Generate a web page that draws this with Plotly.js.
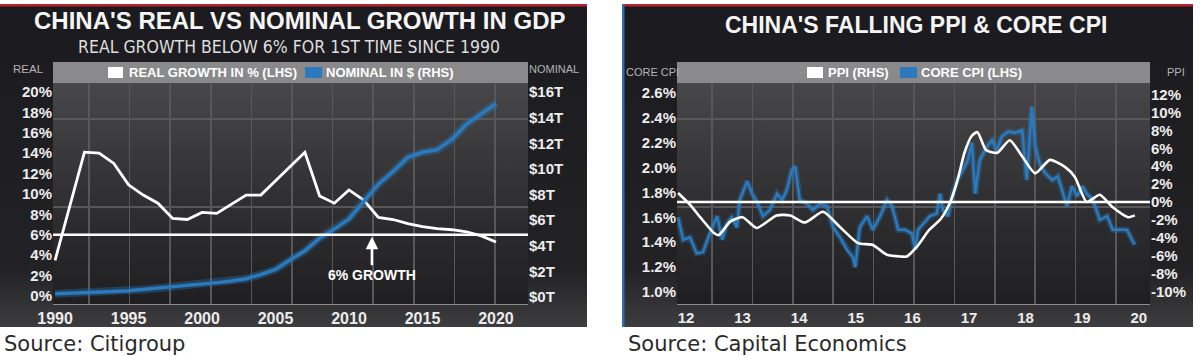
<!DOCTYPE html>
<html>
<head>
<meta charset="utf-8">
<script src="https://cdn.plot.ly/plotly-3.0.1.min.js"></script>
<style>
  html, body { margin: 0; padding: 0; background: #ffffff; }
  #chart { width: 1200px; height: 356px; }
</style>
</head>
<body>
<div id="chart"></div>
<script>
// ---------------- DATA ----------------
// Left chart: China's real vs nominal growth in GDP
const gdpYears = [1990,1991,1992,1993,1994,1995,1996,1997,1998,1999,2000,2001,2002,2003,2004,2005,2006,2007,2008,2009,2010,2011,2012,2013,2014,2015,2016,2017,2018,2019,2020];
const realGrowthPct = [3.5,8.8,14.1,14.0,13.0,10.9,9.9,9.1,7.6,7.5,8.2,8.1,9.0,9.9,9.9,11.3,12.8,14.1,9.8,9.1,10.4,9.4,7.7,7.5,7.1,6.8,6.6,6.5,6.3,5.9,5.3];
const nominalUsdTn = [0.25,0.28,0.32,0.37,0.43,0.48,0.58,0.68,0.78,0.90,1.00,1.12,1.25,1.42,1.75,2.15,2.90,3.60,4.60,5.30,6.10,7.50,8.80,9.80,10.90,11.30,11.50,12.30,13.50,14.30,15.10];
const growthThreshold = 6;
const gdpYearTicks = [1990,1995,2000,2005,2010,2015,2020];
const realTicks = [0,2,4,6,8,10,12,14,16,18,20];
const realTickText = realTicks.map(v => v + '%');
const nominalTicks = [0,2,4,6,8,10,12,14,16];
const nominalTickText = nominalTicks.map(v => '$' + v + 'T');

// Right chart: China's falling PPI & core CPI (decimal years)
const ppiTime = [2011.86,2012.07,2012.25,2012.5,2012.58,2012.78,2013.0,2013.25,2013.6,2013.84,2014.1,2014.42,2014.72,2015.04,2015.3,2015.55,2015.8,2015.9,2016.08,2016.3,2016.5,2016.67,2016.8,2016.92,2017.05,2017.15,2017.3,2017.5,2017.72,2017.95,2018.17,2018.43,2018.7,2018.87,2019.08,2019.31,2019.54,2019.81,2019.93];
const ppiPct = [1.0,-0.3,-1.7,-3.5,-3.7,-2.2,-1.7,-2.9,-1.5,-1.5,-2.3,-1.1,-2.8,-4.6,-4.8,-5.9,-6.1,-6.1,-5.0,-3.1,-1.9,0.0,2.5,5.5,7.4,7.8,5.8,5.5,6.9,5.0,3.2,4.7,3.9,2.8,0.0,0.8,-0.6,-1.7,-1.5];
const coreCpiTime = [2011.86,2011.95,2012.07,2012.19,2012.30,2012.42,2012.55,2012.64,2012.72,2012.81,2012.90,2012.95,2013.08,2013.17,2013.27,2013.36,2013.48,2013.61,2013.70,2013.78,2013.87,2013.93,2014.01,2014.14,2014.24,2014.37,2014.49,2014.60,2014.72,2014.84,2014.95,2014.99,2015.07,2015.20,2015.30,2015.43,2015.55,2015.64,2015.75,2015.87,2015.99,2016.05,2016.10,2016.19,2016.31,2016.43,2016.49,2016.54,2016.63,2016.70,2016.79,2016.89,2016.98,2017.05,2017.11,2017.19,2017.32,2017.41,2017.49,2017.58,2017.69,2017.81,2017.94,2018.02,2018.11,2018.17,2018.25,2018.34,2018.47,2018.57,2018.66,2018.73,2018.82,2018.91,2019.00,2019.08,2019.19,2019.31,2019.44,2019.54,2019.67,2019.79,2019.88,2019.93];
const coreCpiPct = [1.60,1.42,1.44,1.31,1.32,1.47,1.61,1.42,1.55,1.60,1.52,1.74,1.89,1.79,1.71,1.61,1.66,1.79,1.74,1.82,1.98,2.01,1.74,1.71,1.66,1.71,1.69,1.52,1.44,1.34,1.28,1.20,1.52,1.61,1.50,1.61,1.74,1.69,1.50,1.50,1.47,1.34,1.50,1.55,1.61,1.63,1.79,1.66,1.61,1.77,1.90,1.98,2.06,2.20,1.79,2.06,2.17,2.22,2.14,2.25,2.29,2.28,2.30,1.90,2.49,2.17,2.03,1.96,1.90,1.93,1.79,1.69,1.85,1.77,1.85,1.79,1.74,1.58,1.61,1.50,1.50,1.50,1.42,1.38];
const cpiYearTicks = [2012,2013,2014,2015,2016,2017,2018,2019,2020];
const cpiYearTickText = cpiYearTicks.map(v => String(v).slice(2));
const coreTicks = [1.0,1.2,1.4,1.6,1.8,2.0,2.2,2.4,2.6];
const coreTickText = coreTicks.map(v => v.toFixed(1) + '%');
const ppiTicks = [-10,-8,-6,-4,-2,0,2,4,6,8,10,12];
const ppiTickText = ppiTicks.map(v => v + '%');
const ppiZero = 0;

// ---------------- STYLE HELPERS ----------------
const W = 1200, H = 356;
const px = x => x / W;
const py = y => 1 - y / H;
const SANS = "'Liberation Sans', Arial, sans-serif";
const NARROW = "'Liberation Sans Narrow', 'DejaVu Sans Condensed', 'Liberation Sans', sans-serif";
const BLUE = '#2a7abd';
const tickFontY = {family: SANS, size: 15, weight: 700, color: '#ececec'};
const tickFontX = {family: SANS, size: 16, weight: 700, color: '#ececec'};

function panelSvg(w, h, plotX, plotW, borderColor) {
  const svg =
    `<svg xmlns="http://www.w3.org/2000/svg" width="${w}" height="${h}" viewBox="0 0 ${w} ${h}" preserveAspectRatio="none">` +
    `<defs>` +
    `<linearGradient id="bg" x1="0" y1="0" x2="0" y2="1">` +
    `<stop offset="0" stop-color="#1b1b1f"/><stop offset="0.82" stop-color="#222225"/><stop offset="1" stop-color="#3d3d3f"/></linearGradient>` +
    `<linearGradient id="pl" x1="0" y1="0" x2="0" y2="1">` +
    `<stop offset="0" stop-color="#4c4c4e"/><stop offset="0.5" stop-color="#333335"/><stop offset="1" stop-color="#1f1f21"/></linearGradient>` +
    `</defs>` +
    `<rect x="0" y="0" width="${w}" height="${h}" fill="url(#bg)"/>` +
    `<rect x="0" y="0" width="${w}" height="2.5" fill="#b8232b"/>` +
    (borderColor ? `<rect x="0" y="0" width="2.5" height="${h}" fill="${borderColor}"/>` : '') +
    `<rect x="${plotX}" y="58" width="${plotW}" height="242" fill="url(#pl)"/>` +
    `</svg>`;
  return 'data:image/svg+xml;charset=utf-8,' + encodeURIComponent(svg);
}

// ---------------- TRACES ----------------
const traces = [
  {type: 'scatter', mode: 'lines', x: gdpYears, y: nominalUsdTn, xaxis: 'x', yaxis: 'y2',
   line: {color: 'rgba(42,122,189,0.35)', width: 8}, hoverinfo: 'skip'},
  {type: 'scatter', mode: 'lines', x: gdpYears, y: nominalUsdTn, xaxis: 'x', yaxis: 'y2',
   name: 'NOMINAL IN $ (RHS)', line: {color: BLUE, width: 3.5}},
  {type: 'scatter', mode: 'lines', x: gdpYears, y: realGrowthPct, xaxis: 'x', yaxis: 'y',
   name: 'REAL GROWTH IN % (LHS)', line: {color: '#ffffff', width: 2.8}},
  {type: 'scatter', mode: 'lines', x: [], y: [], xaxis: 'x3', yaxis: 'y3', hoverinfo: 'skip'},
  {type: 'scatter', mode: 'lines', x: coreCpiTime, y: coreCpiPct, xaxis: 'x2', yaxis: 'y4',
   line: {color: 'rgba(42,122,189,0.35)', width: 6}, hoverinfo: 'skip'},
  {type: 'scatter', mode: 'lines', x: coreCpiTime, y: coreCpiPct, xaxis: 'x2', yaxis: 'y4',
   name: 'CORE CPI (LHS)', line: {color: BLUE, width: 2.5}},
  {type: 'scatter', mode: 'lines', x: ppiTime, y: ppiPct, xaxis: 'x2', yaxis: 'y5',
   name: 'PPI (RHS)', line: {color: '#ffffff', width: 2.6, shape: 'spline', smoothing: 0.6}},
  {type: 'scatter', mode: 'lines', x: [], y: [], xaxis: 'x4', yaxis: 'y6', hoverinfo: 'skip'}
];

// ---------------- LAYOUT ----------------
const gridColor = '#58585b';
const yDom = [py(304), py(62)];
const layout = {
  width: W, height: H,
  margin: {l: 0, r: 0, t: 0, b: 0},
  paper_bgcolor: '#ffffff',
  plot_bgcolor: 'rgba(0,0,0,0)',
  showlegend: false,
  xaxis: {domain: [px(53), px(528)], range: [1989.86, 2022.18], anchor: 'y',
          tickmode: 'array', tickvals: gdpYearTicks, ticktext: gdpYearTicks.map(String),
          showgrid: false, zeroline: false, showline: true, linecolor: '#8c8c8c', linewidth: 1,
          ticks: '', tickfont: tickFontX, fixedrange: true},
  yaxis: {domain: yDom, range: [-0.78, 22.94], anchor: 'x',
          tickmode: 'array', tickvals: realTicks, ticktext: realTickText,
          showgrid: false, zeroline: false, ticks: '', tickfont: tickFontY, fixedrange: true},
  yaxis2: {overlaying: 'y', side: 'right', anchor: 'x', range: [-0.55, 18.35],
           tickmode: 'array', tickvals: nominalTicks, ticktext: nominalTickText,
           showgrid: false, zeroline: false, ticks: '', tickfont: tickFontY, fixedrange: true},
  xaxis3: {overlaying: 'x', anchor: 'y3', range: [0, 475], tick0: 36, dtick: 40.6,
           showticklabels: false, showgrid: true, gridcolor: gridColor, gridwidth: 1.5,
           zeroline: false, ticks: '', fixedrange: true},
  yaxis3: {overlaying: 'y', anchor: 'x3', range: [0, 242], tickmode: 'array', tickvals: [97, 185],
           showticklabels: false, showgrid: true, gridcolor: gridColor, gridwidth: 1.5,
           zeroline: false, ticks: '', fixedrange: true},

  xaxis2: {domain: [px(677), px(1150)], range: [2011.841, 2020.198], anchor: 'y4',
           tickmode: 'array', tickvals: cpiYearTicks, ticktext: cpiYearTickText,
           showgrid: false, zeroline: false, showline: true, linecolor: '#8c8c8c', linewidth: 1,
           ticks: '', tickfont: {family: SANS, size: 15, weight: 700, color: '#ececec'}, fixedrange: true},
  yaxis4: {domain: yDom, range: [0.9035, 2.849], anchor: 'x2',
           tickmode: 'array', tickvals: coreTicks, ticktext: coreTickText,
           showgrid: false, zeroline: false, ticks: '', tickfont: tickFontY, fixedrange: true},
  yaxis5: {overlaying: 'y4', side: 'right', anchor: 'x2', range: [-11.4, 15.64],
           tickmode: 'array', tickvals: ppiTicks, ticktext: ppiTickText,
           showgrid: false, zeroline: false, ticks: '', tickfont: tickFontY, fixedrange: true},
  xaxis4: {overlaying: 'x2', anchor: 'y6', range: [0, 473], tick0: 35, dtick: 40.4,
           showticklabels: false, showgrid: true, gridcolor: gridColor, gridwidth: 1.5,
           zeroline: false, ticks: '', fixedrange: true},
  yaxis6: {overlaying: 'y4', anchor: 'x4', range: [0, 242], tickmode: 'array', tickvals: [97, 185],
           showticklabels: false, showgrid: true, gridcolor: gridColor, gridwidth: 1.5,
           zeroline: false, ticks: '', fixedrange: true},

  images: [
    {source: panelSvg(587, 323, 53, 475, null), xref: 'paper', yref: 'paper',
     x: px(0), y: py(4), sizex: 587 / W, sizey: 323 / H, xanchor: 'left', yanchor: 'top',
     sizing: 'stretch', layer: 'below'},
    {source: panelSvg(571, 323, 55, 473, '#2f6eb0'), xref: 'paper', yref: 'paper',
     x: px(622), y: py(4), sizex: 571 / W, sizey: 323 / H, xanchor: 'left', yanchor: 'top',
     sizing: 'stretch', layer: 'below'}
  ],

  shapes: [
    {type: 'line', xref: 'x domain', yref: 'y', x0: 0, x1: 1, y0: growthThreshold, y1: growthThreshold,
     line: {color: '#ffffff', width: 2.5}, layer: 'above'},
    {type: 'line', xref: 'x2 domain', yref: 'y5', x0: 0, x1: 1, y0: ppiZero, y1: ppiZero,
     line: {color: '#ffffff', width: 2.5}, layer: 'above'},
    {type: 'rect', xref: 'x domain', yref: 'paper', x0: 0, x1: 1, y0: py(83), y1: py(62),
     fillcolor: '#8a8a8c', line: {width: 0}, layer: 'above'},
    {type: 'rect', xref: 'x2 domain', yref: 'paper', x0: 0, x1: 1, y0: py(83), y1: py(62),
     fillcolor: '#8a8a8c', line: {width: 0}, layer: 'above'},
    {type: 'rect', xref: 'paper', yref: 'paper', x0: px(108), x1: px(123), y0: py(78), y1: py(67),
     fillcolor: '#ffffff', line: {width: 0}, layer: 'above'},
    {type: 'rect', xref: 'paper', yref: 'paper', x0: px(305), x1: px(322), y0: py(78), y1: py(67),
     fillcolor: BLUE, line: {width: 0}, layer: 'above'},
    {type: 'rect', xref: 'paper', yref: 'paper', x0: px(807), x1: px(823), y0: py(78), y1: py(67),
     fillcolor: '#ffffff', line: {width: 0}, layer: 'above'},
    {type: 'rect', xref: 'paper', yref: 'paper', x0: px(900), x1: px(917), y0: py(78), y1: py(67),
     fillcolor: BLUE, line: {width: 0}, layer: 'above'}
  ],

  annotations: [
    {text: "CHINA'S REAL VS NOMINAL GROWTH IN GDP", xref: 'paper', yref: 'paper', x: px(300), y: py(21),
     showarrow: false, xanchor: 'center', yanchor: 'middle',
     font: {family: SANS, size: 24, weight: 700, color: '#f5f5f5'}},
    {text: 'REAL GROWTH BELOW 6% FOR 1ST TIME SINCE 1990', xref: 'paper', yref: 'paper', x: px(289), y: py(47),
     showarrow: false, xanchor: 'center', yanchor: 'middle',
     font: {family: NARROW, size: 17.5, color: '#dedede'}},
    {text: "CHINA'S FALLING PPI & CORE CPI", xref: 'paper', yref: 'paper', x: px(916), y: py(25),
     showarrow: false, xanchor: 'center', yanchor: 'middle',
     font: {family: SANS, size: 23, weight: 700, color: '#f5f5f5'}},
    {text: 'REAL', xref: 'paper', yref: 'paper', x: px(28), y: py(69), showarrow: false,
     xanchor: 'center', yanchor: 'middle', font: {family: SANS, size: 11.5, color: '#b3b3b3'}},
    {text: 'NOMINAL', xref: 'paper', yref: 'paper', x: px(554), y: py(69), showarrow: false,
     xanchor: 'center', yanchor: 'middle', font: {family: SANS, size: 11, color: '#b3b3b3'}},
    {text: 'CORE CPI', xref: 'paper', yref: 'paper', x: px(652), y: py(72), showarrow: false,
     xanchor: 'center', yanchor: 'middle', font: {family: SANS, size: 11, color: '#b3b3b3'}},
    {text: 'PPI', xref: 'paper', yref: 'paper', x: px(1176), y: py(72), showarrow: false,
     xanchor: 'center', yanchor: 'middle', font: {family: SANS, size: 11, color: '#b3b3b3'}},
    {text: 'REAL GROWTH IN % (LHS)', xref: 'paper', yref: 'paper', x: px(127), y: py(72.5), showarrow: false,
     xanchor: 'left', yanchor: 'middle', font: {family: SANS, size: 13, weight: 700, color: '#ffffff'}},
    {text: 'NOMINAL IN $ (RHS)', xref: 'paper', yref: 'paper', x: px(324), y: py(72.5), showarrow: false,
     xanchor: 'left', yanchor: 'middle', font: {family: SANS, size: 13, weight: 700, color: '#ffffff'}},
    {text: 'PPI (RHS)', xref: 'paper', yref: 'paper', x: px(826), y: py(72.5), showarrow: false,
     xanchor: 'left', yanchor: 'middle', font: {family: SANS, size: 13, weight: 700, color: '#ffffff'}},
    {text: 'CORE CPI (LHS)', xref: 'paper', yref: 'paper', x: px(919), y: py(72.5), showarrow: false,
     xanchor: 'left', yanchor: 'middle', font: {family: SANS, size: 13, weight: 700, color: '#ffffff'}},
    {text: '6% GROWTH', xref: 'x', yref: 'y', x: 2011.56, y: growthThreshold, showarrow: true,
     ax: 0, ay: 40, arrowcolor: '#ffffff', arrowwidth: 2.5, arrowhead: 2, arrowsize: 1, standoff: 2,
     font: {family: SANS, size: 14, weight: 700, color: '#ffffff'}},
    {text: 'Source: Citigroup', xref: 'paper', yref: 'paper', x: px(2), y: py(344), showarrow: false,
     xanchor: 'left', yanchor: 'middle', font: {family: "'DejaVu Sans', sans-serif", size: 21, color: '#2a2a2a'}},
    {text: 'Source: Capital Economics', xref: 'paper', yref: 'paper', x: px(626), y: py(344), showarrow: false,
     xanchor: 'left', yanchor: 'middle', font: {family: "'DejaVu Sans', sans-serif", size: 21, color: '#2a2a2a'}}
  ]
};

Plotly.newPlot('chart', traces, layout, {displayModeBar: false, staticPlot: true});
</script>
</body>
</html>
